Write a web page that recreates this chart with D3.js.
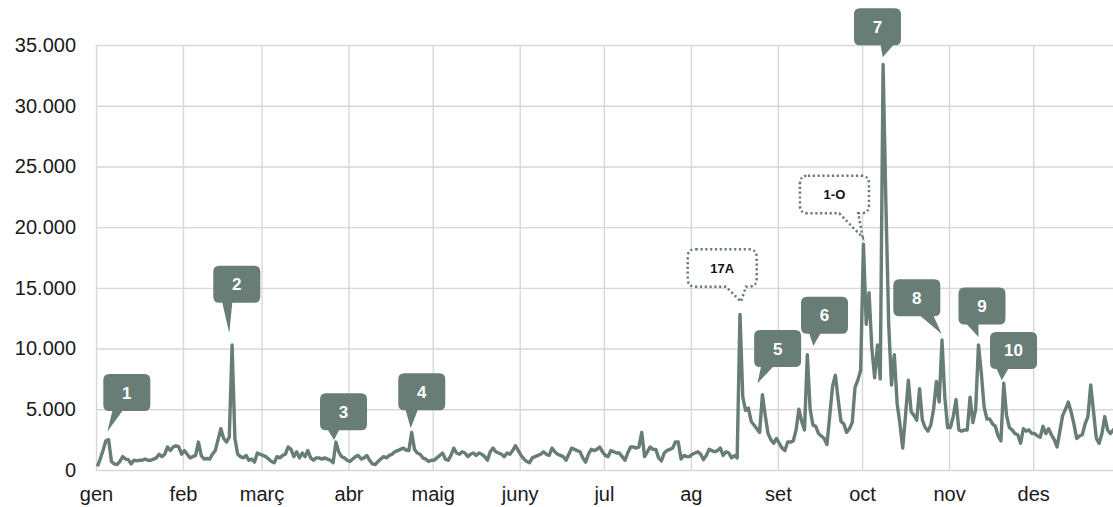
<!DOCTYPE html>
<html><head><meta charset="utf-8">
<script src="https://cdn.jsdelivr.net/npm/d3@7"></script>
<style>
body{margin:0;background:#fff}
svg{display:block}
text{font-family:"Liberation Sans",Arial,Helvetica,sans-serif}
</style>
</head><body>
<svg id="chart" width="1113" height="507"></svg>
<script>
// ---------- DATA ----------
const monthLabels = ["gen","feb","març","abr","maig","juny","jul","ag","set","oct","nov","des"];
const monthStartDays = [0,31,59,90,120,151,181,212,243,273,304,334];
const yTickValues = [0,5000,10000,15000,20000,25000,30000,35000];

const valuesJan = [300,900,1600,2400,2500,700,500,450,700,1100,900,850,500,800,750,800,800,900,800,800,900,1000,1300,1100,1300,1900,1600,1900,2000,1900,1300];
const valuesFeb = [1600,1300,1000,1100,1200,2300,1200,900,950,900,1300,1600,2500,3400,2600,2300,2700,10300,2600,1300,1100,1000,1200,800,900,650,1400,1300];
const valuesMar = [1200,1100,900,700,600,1100,1000,1200,1300,1900,1700,1100,1500,1000,1400,1100,1600,1000,800,1000,1000,900,1000,900,800,600,2300,1500,1100,1000,800];
const valuesApr = [700,900,1100,1200,900,1000,1200,800,500,450,700,900,1100,1000,1200,1300,1500,1600,1700,1800,1650,1600,3100,1700,1400,1300,1000,900,700,800];
const valuesMay = [800,1000,1200,1400,900,800,1200,1800,1400,1300,1500,1400,1100,1300,1400,1200,1400,1300,1100,800,1500,1800,1500,1400,1300,1100,1400,1300,1600,2000,1600];
const valuesJun = [1200,900,700,600,1000,1100,1200,1300,1500,1300,1200,1800,1500,1300,1200,1100,800,1300,1800,1700,1600,1500,1000,650,1300,1700,1600,1700,1900,1500];
const valuesJul = [1200,1100,1600,1500,1400,1400,1100,800,1400,1900,1900,1800,1900,3100,1100,1500,1900,1700,1700,1000,750,1400,1600,1700,1800,2300,2300,900,1200,1100,1100];
const valuesAug = [1300,1400,1500,1300,850,1200,1700,1600,1500,1600,1800,1200,1500,1400,1000,1200,1000,12800,6000,4900,5100,4000,3700,3400,3100,6200,4500,3000,2500,2200,2600];
const valuesSep = [2200,1800,1600,2300,2300,2400,3300,5000,4000,3300,9500,5000,3700,3600,3000,2800,2600,2100,4500,6900,7800,5800,4000,3800,3100,3400,3900,6800,7400,8200];
const valuesOct = [18600,12000,14600,10000,7600,10300,7500,33400,22000,12000,7000,9500,5500,3800,1800,4500,7400,4800,4500,4100,6700,4100,3500,3200,3700,5000,7300,5600,10700,6000,3500];
const valuesNov = [3500,4400,5800,3300,3200,3300,3300,6000,3900,5000,10300,8000,5200,4200,4200,3800,3600,2800,2400,7150,4500,3500,3300,3000,2900,2200,3400,3200,3300,3000];
const valuesDec = [3000,2800,2700,3600,3000,3400,2900,2500,1900,3200,4500,5000,5600,4800,3800,2600,2800,2900,3800,4400,7000,4800,2600,2200,3000,4400,3300,3000,3300,3500,3000];

const dailyValues = [].concat(valuesJan,valuesFeb,valuesMar,valuesApr,valuesMay,valuesJun,
  valuesJul,valuesAug,valuesSep,valuesOct,valuesNov,valuesDec);

const annotationLabels = ["1","2","3","4","17A","5","6","1-O","7","8","9","10"];
const annotationDays   = [4,48,85,112,229,237,253,273,280,301,314,323];
const annotationKinds  = ["solid","solid","solid","solid","dotted","solid","solid","dotted","solid","solid","solid","solid"];

// ---------- LAYOUT (positions / styles) ----------
const chartW = 1113;
const plotLeft = 96, plotTop = 45, plotBottom = 470, pxPerDay = 2.806;
const lineColor = "#677d75";
const gridColor = "#d7d7d7";
// per annotation: tip offset from point, box top-left offset from tip, pointer base x-range relative to tip
const calloutLayout = [
  {tdx:-1.3,tdy:-8,  bx:-4,   by:-57.7, b1:5,    b2:15},
  {tdx:-2.8,tdy:-11.6,bx:-16, by:-67.6, b1:-7,   b2:3},
  {tdx:-1.9,tdy:-2,  bx:-14,  by:-46.7, b1:-6,   b2:5},
  {tdx:-1,  tdy:-4,  bx:-12.4,by:-55,   b1:-5,   b2:7},
  {tdx:1,   tdy:-13, bx:-53.3,by:-52.4, b1:-15,  b2:5},
  {tdx:-5,  tdy:-11.4,bx:-3.3,by:-53.3, b1:3.5,  b2:15.5},
  {tdx:6,   tdy:-8.6,bx:-12.3,by:-49.3, b1:-4,   b2:7},
  {tdx:-0.8,tdy:-6.8,bx:-62.7,by:-61.6, b1:-23.4,b2:-4.4},
  {tdx:-0.4,tdy:-7.1,bx:-28.7,by:-49,   b1:-2,   b2:10.5},
  {tdx:-0.3,tdy:-6,  bx:-48.4,by:-54.7, b1:-21,  b2:-8},
  {tdx:0,   tdy:-8,  bx:-20,  by:-49.4, b1:-11.5,b2:0},
  {tdx:-2,  tdy:-3,  bx:-11.7,by:-48.3, b1:-5,   b2:6.5}
];

const svg = d3.select("#chart");

const x = d3.scaleLinear().domain([0,365]).range([plotLeft, plotLeft + 365*pxPerDay]);
const y = d3.scaleLinear().domain([0,35000]).range([plotBottom, plotTop]);

const locale = d3.formatLocale({decimal:",", thousands:".", grouping:[3], currency:["","€"]});
const fmt = locale.format(",");

// Y grid + labels
const gy = svg.append("g").attr("transform",`translate(${plotLeft},0)`)
  .call(d3.axisLeft(y).tickValues(yTickValues).tickFormat(fmt).tickSize(-(chartW-plotLeft)).tickPadding(20));
gy.select(".domain").remove();
gy.selectAll(".tick line").attr("stroke",gridColor).attr("stroke-width",1.4);
gy.selectAll(".tick text").attr("font-size",20).attr("fill","#1a1a1a")
  .attr("font-family","'Liberation Sans',Arial,sans-serif");

// X grid + labels
const gx = svg.append("g").attr("transform",`translate(0,${plotBottom})`)
  .call(d3.axisBottom(x).tickValues(monthStartDays).tickFormat((d,i)=>monthLabels[i])
    .tickSize(-(plotBottom-plotTop)).tickPadding(17));
gx.select(".domain").remove();
gx.selectAll(".tick line").attr("stroke",gridColor).attr("stroke-width",1.4);
gx.selectAll(".tick text").attr("font-size",20).attr("fill","#1a1a1a")
  .attr("font-family","'Liberation Sans',Arial,sans-serif");

// Line
const line = d3.line().x((d,i)=>x(i+0.5)).y(d=>y(d));
svg.append("path").datum(dailyValues)
  .attr("d",line).attr("fill","none").attr("stroke",lineColor)
  .attr("stroke-width",3.4).attr("stroke-linejoin","round");

// Callouts
function bubblePath(l,t,w,h,r,a,b,tx,ty){
  const R=l+w, B=t+h;
  return `M${l+r},${t} L${R-r},${t} Q${R},${t} ${R},${t+r} L${R},${B-r} Q${R},${B} ${R-r},${B} `+
    `L${b},${B} L${tx},${ty} L${a},${B} L${l+r},${B} Q${l},${B} ${l},${B-r} L${l},${t+r} Q${l},${t} ${l+r},${t} Z`;
}

annotationLabels.forEach((lab,i)=>{
  const d = annotationDays[i];
  const L = calloutLayout[i];
  const px = x(d+0.5), py = y(dailyValues[d]);
  const tx = px + L.tdx, ty = py + L.tdy;
  const bl = tx + L.bx, bt = ty + L.by;
  const dotted = annotationKinds[i]==="dotted";
  const w = dotted ? 69 : 47, h = dotted ? 37.5 : 37, r = dotted ? 8 : 6;
  const g = svg.append("g");
  g.append("path").attr("d",bubblePath(bl,bt,w,h,r,tx+L.b1,tx+L.b2,tx,ty))
    .attr("fill",dotted?"#fff":lineColor)
    .attr("stroke",dotted?lineColor:"none")
    .attr("stroke-width",dotted?2.5:0)
    .attr("stroke-dasharray",dotted?"2.2,2.6":null);
  g.append("text").attr("x",bl+w/2).attr("y",bt+h/2).attr("dy","0.36em")
    .attr("text-anchor","middle").attr("font-weight","bold")
    .attr("font-size",dotted?13:17).attr("fill",dotted?"#111":"#fff")
    .text(lab);
});
</script>
</body></html>
